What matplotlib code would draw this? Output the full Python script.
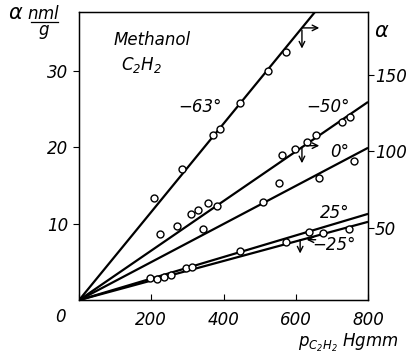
import matplotlib.pyplot as plt

# fitted slopes (alpha per Hgmm)
slopes = {"-63": 0.0577, "-50": 0.0324, "0": 0.0249, "25": 0.0141, "-25": 0.0128}

p_m63 = [208, 285, 371, 390, 446, 523, 573]
a_m63 = [13.4, 17.2, 21.6, 22.4, 25.8, 30.0, 32.5]

p_m50 = [224, 271, 310, 330, 357, 382, 562, 598, 631, 656, 728, 750]
a_m50 = [8.6, 9.7, 11.3, 11.8, 12.7, 12.3, 19.0, 19.7, 20.7, 21.6, 23.3, 24.0]

p_0 = [343, 509, 554, 664, 761]
a_0 = [9.3, 12.8, 15.3, 16.0, 18.2]

p_25 = [296, 313, 446, 637]
a_25 = [4.2, 4.3, 6.4, 8.9]

p_m25 = [196, 215, 235, 255, 573, 675, 747]
a_m25 = [2.9, 2.8, 3.0, 3.3, 7.6, 8.8, 9.3]

plt.rcParams['font.family'] = 'DejaVu Sans'
plt.rcParams['font.style'] = 'italic'

fig = plt.figure(figsize=(4.14, 3.59), dpi=100)
ax = fig.add_axes([0.191, 0.164, 0.698, 0.803])

xs = [0, 800]
for key, s in slopes.items():
    ax.plot(xs, [0, s * 800], color='black', lw=1.6, solid_capstyle='butt')

mk = dict(ls='none', marker='o', ms=5, mfc='white', mec='black', mew=1.0)
for p, a in [(p_m63, a_m63), (p_m50, a_m50), (p_0, a_0), (p_25, a_25), (p_m25, a_m25)]:
    ax.plot(p, a, **mk)

ax.set_xlim(0, 800)
ax.set_ylim(0, 37.7)
ax.set_xticks([0, 200, 400, 600, 800])
ax.set_xticklabels(['', '200', '400', '600', '800'])
ax.set_yticks([10, 20, 30])
ax.tick_params(axis='x', direction='in', length=4, labelsize=12, pad=8)
ax.tick_params(axis='y', direction='out', length=4, labelsize=12)
for sp in ax.spines.values():
    sp.set_linewidth(1.0)

ax2 = ax.twinx()
ax2.set_ylim(3, 191)
ax2.set_yticks([50, 100, 150])
ax2.tick_params(axis='y', direction='out', length=4, labelsize=12, pad=1)

# single '0' at the lower left corner
ax.text(-0.066, -0.059, '0', transform=ax.transAxes, fontsize=12, ha='center', va='center')

# line labels
lab = dict(fontsize=12, ha='center', va='center')
ax.text(335, 25.3, '−63°', **lab)
ax.text(689, 25.3, '−50°', **lab)
ax.text(722, 19.4, '0°', **lab)
ax.text(708, 11.4, '25°', **lab)
ax.text(705, 7.2, '−25°', **lab)

ax.text(0.12, 0.903, 'Methanol', transform=ax.transAxes, fontsize=12, va='center')
ax.text(0.145, 0.816, r'$C_2H_2$', transform=ax.transAxes, fontsize=12, va='center')

# axis-hint arrows
arr = dict(arrowstyle='->', color='black', lw=1.0, shrinkA=0, shrinkB=0)
ax.annotate('', xy=(665, 35.6), xytext=(620, 35.6), arrowprops=arr)
ax.annotate('', xy=(617, 32.9), xytext=(617, 35.3), arrowprops=arr)
ax.annotate('', xy=(665, 20.2), xytext=(628, 20.2), arrowprops=arr)
ax.annotate('', xy=(617, 17.9), xytext=(617, 20.0), arrowprops=arr)
ax.annotate('', xy=(612, 6.1), xytext=(612, 7.9), arrowprops=arr)
ax.annotate('', xy=(630, 7.9), xytext=(655, 7.9), arrowprops=arr)

# axis titles
fig.text(0.02, 0.965, 'α', fontsize=15, va='center')
fig.text(0.105, 0.985, r'$nml$', fontsize=12, ha='center', va='top')
fig.lines.append(plt.Line2D([0.075, 0.14], [0.94, 0.94], transform=fig.transFigure, color='black', lw=0.9))
fig.text(0.105, 0.935, r'$g$', fontsize=12, ha='center', va='top')
fig.text(0.905, 0.915, 'α', fontsize=15, va='center')
fig.text(0.72, 0.045, r'$p_{C_2H_2}$ Hgmm', fontsize=12, va='center')

fig.savefig('out.png', dpi=100)
